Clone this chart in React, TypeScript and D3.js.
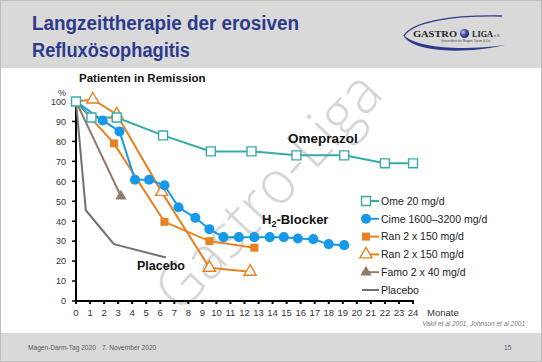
import React, { useEffect, useRef } from "react";
import * as d3 from "d3";

const width = 542;
const height = 362;

// chart frame (pixels of the plot area)
const x = d3.scaleLinear([0, 24], [76, 413]);
const y = d3.scaleLinear([0, 100], [301, 101.5]);

const xTicks = d3.range(0, 25);
const yTicks = d3.range(0, 101, 10);

// data (months, % of patients in remission)
const omeMonths = [0, 1.1, 2.9, 6.2, 9.6, 12.5, 15.7, 19.1, 22, 24];
const omeValues = [100, 92, 92, 83, 75, 75, 73, 73, 69, 69];

const cimeMonths = [0, 1.9, 3.1, 4.2, 5.2, 6.3, 7.3, 8.5, 9.5, 10.5, 11.6, 12.7, 13.8, 14.8, 15.8, 16.9, 18, 19.1];
const cimeValues = [100, 90.5, 85, 60.8, 60.8, 58, 47, 41.7, 36, 32, 32, 32, 32, 32, 31.3, 31, 28.5, 28];

const ranSqMonths = [0, 2.7, 6.3, 9.5, 12.7];
const ranSqValues = [100, 79, 39.7, 30, 26.7];

const ranTriMonths = [0, 1.2, 2.9, 6.1, 9.5, 12.4];
const ranTriValues = [100, 101, 93.5, 54.7, 16.7, 14.7];

const famoMonths = [0, 3.2];
const famoValues = [100, 52.5];

const placeboMonths = [0, 0.7, 2.7, 6.4];
const placeboValues = [100, 45.5, 28.5, 21.8];

const legendLabels = [
  "Ome 20 mg/d",
  "Cime 1600\u20133200 mg/d",
  "Ran 2 x 150 mg/d",
  "Ran 2 x 150 mg/d",
  "Famo 2 x 40 mg/d",
  "Placebo",
];

const teal = "#38aaa5";
const blue = "#1799ea";
const orange = "#e8811f";
const taupe = "#8c7d6e";
const grey = "#717171";
const titleBlue = "#2d3a8c";

type Series = {
  months: number[];
  values: number[];
  color: string;
  symbol: d3.SymbolType | null;
  size: number;
  filled: boolean;
  skipFirst: boolean;
};

const series: Series[] = [
  { months: placeboMonths, values: placeboValues, color: grey, symbol: null, size: 0, filled: true, skipFirst: true },
  { months: famoMonths, values: famoValues, color: taupe, symbol: d3.symbolTriangle, size: 55, filled: true, skipFirst: true },
  { months: ranSqMonths, values: ranSqValues, color: orange, symbol: d3.symbolSquare, size: 64, filled: true, skipFirst: true },
  { months: ranTriMonths, values: ranTriValues, color: orange, symbol: d3.symbolTriangle, size: 64, filled: false, skipFirst: true },
  { months: omeMonths, values: omeValues, color: teal, symbol: d3.symbolSquare, size: 80, filled: false, skipFirst: false },
  { months: cimeMonths, values: cimeValues, color: blue, symbol: d3.symbolCircle, size: 80, filled: true, skipFirst: true },
];

// legend order matches the slide
const legendSeries = [4, 5, 2, 3, 1, 0];

const font = "'Liberation Sans', Arial, sans-serif";

export default function App() {
  const ref = useRef<SVGGElement>(null);

  useEffect(() => {
    const g = d3.select(ref.current);
    g.selectAll("*").remove();

    // axes
    const yAxis = g.append("g");
    yAxis
      .append("line")
      .attr("x1", x(0))
      .attr("x2", x(0))
      .attr("y1", y(100))
      .attr("y2", y(0))
      .attr("stroke", "#000")
      .attr("stroke-width", 2);
    yTicks.forEach((t) => {
      yAxis
        .append("line")
        .attr("x1", x(0) - 4)
        .attr("x2", x(0))
        .attr("y1", y(t))
        .attr("y2", y(t))
        .attr("stroke", "#000")
        .attr("stroke-width", 1.5);
      yAxis
        .append("text")
        .attr("x", x(0) - 10)
        .attr("y", y(t) + 3.3)
        .attr("text-anchor", "end")
        .attr("font-size", 9)
        .attr("fill", "#333")
        .text(t);
    });

    const xAxis = g.append("g");
    xAxis
      .append("line")
      .attr("x1", x(0))
      .attr("x2", x(24))
      .attr("y1", y(0))
      .attr("y2", y(0))
      .attr("stroke", "#000")
      .attr("stroke-width", 2);
    xTicks.forEach((t) => {
      xAxis
        .append("line")
        .attr("x1", x(t))
        .attr("x2", x(t))
        .attr("y1", y(0) - 1)
        .attr("y2", y(0) + 3)
        .attr("stroke", "#000")
        .attr("stroke-width", 2);
      xAxis
        .append("text")
        .attr("x", x(t))
        .attr("y", y(0) + 15)
        .attr("text-anchor", "middle")
        .attr("font-size", 9.5)
        .attr("fill", "#333")
        .text(t);
    });

    // lines first, markers on top
    series.forEach((s) => {
      const pts = s.months.map((m, i) => [x(m), y(s.values[i])] as [number, number]);
      g.append("path")
        .attr("d", d3.line()(pts))
        .attr("fill", "none")
        .attr("stroke", s.color)
        .attr("stroke-width", 2);
    });
    series.forEach((s) => {
      if (!s.symbol) return;
      const sym = d3.symbol(s.symbol, s.size)();
      s.months.forEach((m, i) => {
        if (i === 0 && s.skipFirst) return;
        g.append("path")
          .attr("d", sym)
          .attr("transform", `translate(${x(m)},${y(s.values[i])})`)
          .attr("fill", s.filled ? s.color : "#fff")
          .attr("stroke", s.color)
          .attr("stroke-width", s.filled ? 0 : 1.4);
      });
    });

    // legend
    const lg = g.append("g").attr("transform", "translate(362,201)");
    legendSeries.forEach((si, row) => {
      const s = series[si];
      const ry = row * 17.8;
      lg.append("line")
        .attr("x1", 0)
        .attr("x2", 17)
        .attr("y1", ry)
        .attr("y2", ry)
        .attr("stroke", s.color)
        .attr("stroke-width", 2);
      if (s.symbol) {
        lg.append("path")
          .attr("d", d3.symbol(s.symbol, s.size)())
          .attr("transform", `translate(4,${ry})`)
          .attr("fill", s.filled ? s.color : "#fff")
          .attr("stroke", s.color)
          .attr("stroke-width", s.filled ? 0 : 1.4);
      }
      lg.append("text")
        .attr("x", 19)
        .attr("y", ry + 3.8)
        .attr("font-size", 10.5)
        .attr("fill", "#222")
        .text(legendLabels[row]);
    });
  }, []);

  return (
    <>
      <style>{`body{margin:0}`}</style>
      <svg width={width} height={height} style={{ display: "block", fontFamily: font }}>
        <defs>
          <radialGradient id="ball" cx="35%" cy="35%" r="70%">
            <stop offset="0%" stopColor="#c9cfe8" />
            <stop offset="45%" stopColor="#4a58a8" />
            <stop offset="100%" stopColor="#1d2770" />
          </radialGradient>
        </defs>
        <rect x={0} y={0} width={width} height={height} fill="#fff" />
        <rect x={0} y={0} width={width} height={68} fill="#d9d9d9" />
        <rect x={0} y={333} width={width} height={29} fill="#d9d9d9" />
        <rect x={0.5} y={0.5} width={width - 1} height={height - 1} fill="none" stroke="#bdbdbd" />

        {/* title */}
        <text x={32} y={30} fontSize={20} fontWeight="bold" fill={titleBlue} textLength={267} lengthAdjust="spacingAndGlyphs">
          Langzeittherapie der erosiven
        </text>
        <text x={32} y={57} fontSize={20} fontWeight="bold" fill={titleBlue} textLength={158} lengthAdjust="spacingAndGlyphs">
          Refluxösophagitis
        </text>

        {/* logo */}
        <g>
          <path d="M404,36 C412,22 450,15 502,16" fill="none" stroke={titleBlue} strokeWidth={1.3} />
          <path d="M403,35 C410,50 455,56 506,45 C460,51 418,48 403,35 Z" fill={titleBlue} />
          <text x={413} y={37} fontSize={8.5} fontWeight="bold" fontFamily="'Liberation Serif', serif" fill="#222" textLength={44} lengthAdjust="spacingAndGlyphs">GASTRO</text>
          <circle cx={464.5} cy={33.5} r={4.6} fill="url(#ball)" />
          <text x={472} y={37} fontSize={8.5} fontWeight="bold" fontFamily="'Liberation Serif', serif" fill="#222" textLength={21} lengthAdjust="spacingAndGlyphs">LIGA</text>
          <text x={494} y={37} fontSize={3.5} fill="#222">e.V.</text>
          <text x={441} y={42} fontSize={3.2} fill="#444">Gesundheit für Magen, Darm &amp; Co.</text>
        </g>

        {/* watermark */}
        <text
          x={283}
          y={205}
          transform="rotate(-47 283 205)"
          textAnchor="middle"
          fontSize={60}
          fontWeight={300}
          fontFamily="'Open Sans', 'DejaVu Sans', sans-serif"
          fill="#d6d6d6"
          textLength={300}
          lengthAdjust="spacingAndGlyphs"
        >
          Gastro-Liga
        </text>

        {/* chart texts */}
        <text x={79} y={82} fontSize={11.5} fontWeight="bold" fill="#111">Patienten in Remission</text>
        <text x={58} y={96} fontSize={9} fill="#333">%</text>
        <text x={427} y={316} fontSize={9.5} fill="#333">Monate</text>
        <text x={288} y={143} fontSize={13.5} fontWeight="bold" fill="#111">Omeprazol</text>
        <text x={262} y={224} fontSize={13} fontWeight="bold" fill="#111">
          H<tspan fontSize={9} dy={3}>2</tspan><tspan dy={-3}>-Blocker</tspan>
        </text>
        <text x={137} y={270} fontSize={12.5} fontWeight="bold" fill="#111">Placebo</text>

        <g ref={ref} />

        {/* source and footer */}
        <text x={525} y={326} fontSize={6.5} fontStyle="italic" fill="#7a7a7a" textAnchor="end">
          Vakil et al 2001,  Johnson et al 2001
        </text>
        <text x={28} y={349.5} fontSize={6.6} fill="#5a5a5a">Magen-Darm-Tag 2020</text>
        <text x={102} y={349.5} fontSize={6.6} fill="#5a5a5a">7. November 2020</text>
        <text x={504} y={349.5} fontSize={6.6} fill="#5a5a5a">15</text>
      </svg>
    </>
  );
}
